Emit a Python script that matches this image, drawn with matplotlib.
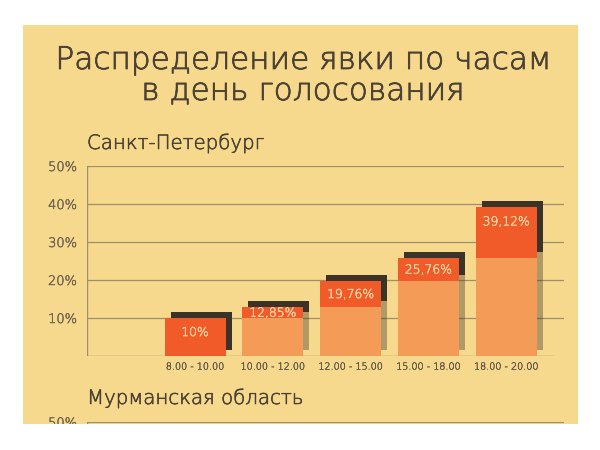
import matplotlib
matplotlib.use("Agg")
import math
import matplotlib.pyplot as plt
import matplotlib.transforms as mtransforms
import matplotlib.patheffects as pe
from matplotlib.patches import Rectangle
from matplotlib import font_manager as fm
from matplotlib.textpath import TextPath

# ---- data ----
title_lines = ["Распределение явки по часам", "в день голосования"]
region1 = "Санкт-Петербург"
region2 = "Мурманская область"
categories = ["8.00 - 10.00", "10.00 - 12.00", "12.00 - 15.00", "15.00 - 18.00", "18.00 - 20.00"]
turnout = [10, 12.85, 19.76, 25.76, 39.12]
yticks = [10, 20, 30, 40, 50]

# ---- style ----
BG = "#F7D98E"
RED = "#F15A29"
LIGHT = "#F39B57"
DARK = "#3B3327"
TXT = "#4A4134"
XTXT = "#5A5043"
TICKTXT = "#6B604F"
GRID = "#9E8F6C"
LABEL = "#FAD9A6"


def pick_font():
    prefs = [("DejaVu Sans", (200, 300)), ("Open Sans", (300,)), ("Noto Sans", (300,)),
             ("Roboto", (300,)), ("Lato", (300,)), ("Inter", (300,))]
    for fam, weights in prefs:
        for f in fm.fontManager.ttflist:
            if f.name == fam and f.style == "normal" and f.stretch in ("normal", 500) \
                    and isinstance(f.weight, int) and f.weight in weights:
                return fm.FontProperties(fname=f.fname), True
    return fm.FontProperties(family="DejaVu Sans"), False

FP, IS_LIGHT = pick_font()

def thick(t, lw, color):
    if IS_LIGHT and lw > 0:
        t.set_path_effects([pe.withStroke(linewidth=lw, foreground=color)])
    return t

W, H = 600, 450
fig = plt.figure(figsize=(6, 4.5), dpi=100)
fig.patch.set_facecolor("white")

def px(x, y):
    return x / W, 1 - y / H

# beige panel
fig.add_artist(Rectangle(px(23, 424), (578 - 23) / W, (424 - 25) / H,
                         transform=fig.transFigure, facecolor=BG, edgecolor="none", zorder=-5))

renderer = fig.canvas.get_renderer()

def fp(size):
    p = FP.copy()
    p.set_size(size)
    return p

def fit(t, width_px, cap_px=None):
    bb = t.get_window_extent(renderer)
    s_w = t.get_fontsize() * width_px / bb.width
    if cap_px is None:
        t.set_fontsize(s_w)
        return s_w
    cap = TextPath((0, 0), "Н", prop=fp(10)).get_extents().height * 100 / 72
    s_h = 10 * cap_px / cap
    s = math.sqrt(s_w * s_h)
    t.set_fontsize(s)
    return s

# titles
t1 = fig.text(*px(303, 69), title_lines[0], ha="center", va="baseline", color=TXT, fontproperties=fp(22))
fit(t1, 490, 23)
t2 = fig.text(*px(303, 100), title_lines[1], ha="center", va="baseline", color=TXT,
              fontproperties=fp(t1.get_fontsize()))
thick(t1, 0.55, TXT)
thick(t2, 0.55, TXT)
r1 = fig.text(*px(87, 149), region1, ha="left", va="baseline", color=TXT, fontproperties=fp(14))
fit(r1, 171, 15)
r2 = fig.text(*px(87, 404), region2, ha="left", va="baseline", color=TXT,
              fontproperties=fp(r1.get_fontsize()))
thick(r1, 0.4, TXT)
thick(r2, 0.4, TXT)

# main axes: x 86.7..564, y 166 (50%)..356 (0)
left, right, top, bottom = 86.7, 564, 166, 356
ax = fig.add_axes([left / W, 1 - bottom / H, (right - left) / W, (bottom - top) / H])
ax.set_facecolor("none")

n = len(categories)
x = list(range(n))
spacing = 77.8
xmin = -(506.2 - 4 * spacing - left) / spacing
xmax = (n - 1) + (right - 506.2) / spacing
ax.set_xlim(xmin, xmax)
ax.set_ylim(0, 50)
bw = 61 / spacing

base = [0] + turnout[:-1]
inc = [t - b for t, b in zip(turnout, base)]

# gridlines
for yv in yticks:
    ax.axhline(yv, color=GRID, lw=0.9, zorder=0)
ax.axhline(0, xmin=0, xmax=(553 - left) / (right - left), color=GRID, lw=1.0, zorder=0)
ax.axvline(xmin, color=GRID, lw=1.0, zorder=0)

shadow_tr = mtransforms.offset_copy(ax.transData, fig=fig, x=6, y=6, units="dots")

sh_light = ax.bar(x, base, width=bw, color=DARK, alpha=0.38, linewidth=0, zorder=1)
sh_dark = ax.bar(x, inc, bottom=base, width=bw, color=DARK, linewidth=0, zorder=1.1)
for p in list(sh_light) + list(sh_dark):
    p.set_transform(shadow_tr)

ax.bar(x, base, width=bw, color=LIGHT, linewidth=0, zorder=2)
ax.bar(x, inc, bottom=base, width=bw, color=RED, linewidth=0, zorder=2)

lab_texts = []
for xi, b, t in zip(x, base, turnout):
    lab = ("%g" % t).replace(".", ",") + "%"
    ypos = max((b + t) / 2, t - 3.7)
    lt = ax.text(xi, ypos, lab, ha="center", va="center", color=LABEL, fontproperties=fp(10), zorder=5)
    lab_texts.append(lt)
bbw = lab_texts[-1].get_window_extent(renderer).width
scale = 47 / bbw
for lt in lab_texts:
    lt.set_fontsize(lt.get_fontsize() * scale)
    thick(lt, 0.3, LABEL)

ax.set_xticks(x)
ax.set_xticklabels(categories, fontproperties=fp(8), color=XTXT)
xt0 = ax.get_xticklabels()[0]
sc = 58 / xt0.get_window_extent(renderer).width
for t in ax.get_xticklabels():
    t.set_fontsize(8 * sc)
    thick(t, 0.25, XTXT)
ax.set_yticks(yticks)
ax.set_yticklabels(["%d%%" % v for v in yticks], fontproperties=fp(10.5), color=TICKTXT)
yt0 = ax.get_yticklabels()[0]
sy = 29 / yt0.get_window_extent(renderer).width
ysize = 10.5 * sy
for t in ax.get_yticklabels():
    t.set_fontsize(ysize)
    thick(t, 0.3, TICKTXT)
ax.tick_params(axis="both", length=0)
ax.tick_params(axis="x", pad=4)
ax.tick_params(axis="y", pad=7)
for s in ax.spines.values():
    s.set_visible(False)

# second (cut-off) chart
top2 = 422
ax2 = fig.add_axes([left / W, 1 - (top2 + 190) / H, (right - left) / W, 190 / H])
ax2.set_facecolor("none")
ax2.set_xlim(xmin, xmax)
ax2.set_ylim(0, 50)
for yv in yticks:
    ax2.axhline(yv, color=GRID, lw=0.9, zorder=0)
ax2.axvline(xmin, color=GRID, lw=1.0, zorder=0)
ax2.set_xticks([])
ax2.set_yticks([yticks[-1]])
ax2.set_yticklabels(["%d%%" % yticks[-1]], fontproperties=fp(ysize), color=TICKTXT)
for t in ax2.get_yticklabels():
    thick(t, 0.3, TICKTXT)
ax2.tick_params(axis="y", length=0, pad=7)
for s in ax2.spines.values():
    s.set_visible(False)

# white area below the panel
fig.add_artist(Rectangle((0, 0), 1, (H - 424) / H, transform=fig.transFigure,
                         facecolor="white", edgecolor="none", zorder=50))

fig.savefig("out.png", dpi=100, facecolor="white")
